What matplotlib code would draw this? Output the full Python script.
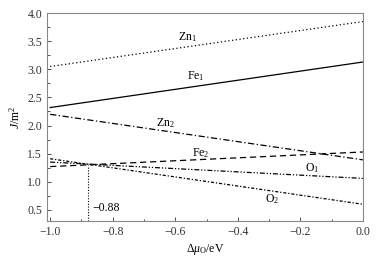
import matplotlib
matplotlib.use("Agg")
import matplotlib.pyplot as plt
import numpy as np
from matplotlib.ticker import MultipleLocator

plt.rcParams['font.family'] = ['Liberation Serif', 'DejaVu Serif']
plt.rcParams['mathtext.fontset'] = 'custom'
plt.rcParams['mathtext.rm'] = 'Liberation Serif'
plt.rcParams['mathtext.it'] = 'Liberation Serif:italic'
plt.rcParams['mathtext.bf'] = 'Liberation Serif:bold'

# Data: surface energy lines, value at dmu=-1.0 and at dmu=0.0
x_ends = [-1.0, 0.0]
zn1 = [3.05, 3.85]
fe1 = [2.32, 3.13]
zn2 = [2.20, 1.39]
fe2 = [1.27, 1.53]
o1 = [1.35, 1.06]
o2 = [1.41, 0.60]
cross_x = -0.88
cross_y = 1.30
cross_label = "−0.88"

fig = plt.figure(figsize=(3.9, 2.62), dpi=100)
ax = fig.add_axes([0.1205, 0.156, 0.81, 0.794])

lw = 0.9
ax.plot(x_ends, zn1, color='black', lw=lw, linestyle=(0, (1, 2)))
ax.plot(x_ends, fe1, color='black', lw=lw, linestyle='-')
ax.plot(x_ends, zn2, color='black', lw=lw, linestyle=(0, (5, 2, 1, 2)))
ax.plot(x_ends, fe2, color='black', lw=lw, linestyle=(0, (5, 3)))
ax.plot(x_ends, o1, color='black', lw=lw, linestyle=(0, (4, 1.5, 1, 1.5, 1, 1.5)))
ax.plot(x_ends, o2, color='black', lw=lw, linestyle=(0, (2.5, 1.5, 1, 1.5)))

ax.plot([cross_x, cross_x], [0.3, cross_y], color='black', lw=0.8, linestyle=(0, (1, 1.5)))

fs = 8.5
ax.text(-0.56, 3.58, r'Zn$_1$', fontsize=fs, ha='center', va='center')
ax.text(-0.535, 2.88, r'Fe$_1$', fontsize=fs, ha='center', va='center')
ax.text(-0.63, 2.04, r'Zn$_2$', fontsize=fs, ha='center', va='center')
ax.text(-0.52, 1.51, r'Fe$_2$', fontsize=fs, ha='center', va='center')
ax.text(-0.163, 1.24, r'O$_1$', fontsize=fs, ha='center', va='center')
ax.text(-0.29, 0.69, r'O$_2$', fontsize=fs, ha='center', va='center')
ax.text(-0.866, 0.53, cross_label, fontsize=fs, ha='left', va='center')

ax.set_xlim(-1.01, 0.0)
ax.set_ylim(0.3, 4.0)
ax.xaxis.set_minor_locator(MultipleLocator(0.1))
ax.yaxis.set_minor_locator(MultipleLocator(0.25))
ax.set_xticks(np.arange(-1.0, 0.01, 0.2))
ax.set_xticklabels(['−1.0', '−0.8', '−0.6', '−0.4', '−0.2', '0.0'])
ax.set_yticks(np.arange(0.5, 4.01, 0.5))
ax.set_yticklabels(['0.5', '1.0', '1.5', '2.0', '2.5', '3.0', '3.5', '4.0'])
ax.tick_params(which='both', direction='in', labelsize=fs, colors='#333333', width=0.6)
ax.tick_params(which='major', length=3)
ax.tick_params(which='minor', length=1.8)
for s in ax.spines.values():
    s.set_color('#888888')
    s.set_linewidth(0.8)

ax.set_xlabel(r'$\Delta\mu_{\rm O}$/eV', fontsize=fs, labelpad=3)
ax.set_ylabel(r'$J$/m$^2$', fontsize=fs, labelpad=3)

fig.savefig('out.png', dpi=100)
